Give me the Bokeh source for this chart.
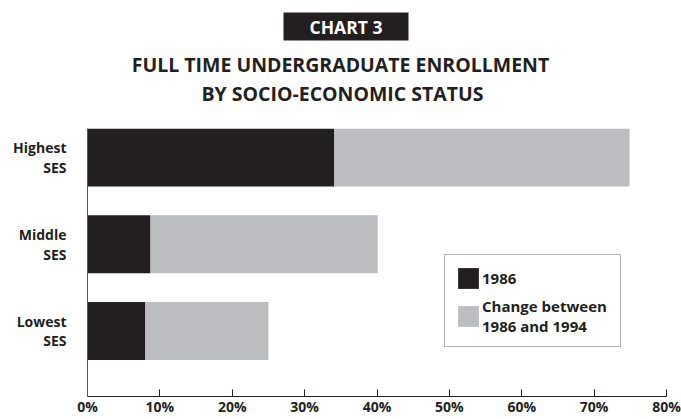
from bokeh.plotting import figure
from bokeh.layouts import column
from bokeh.models import (Range1d, FixedTicker, PrintfTickFormatter,
                          Legend, LegendItem, ColumnDataSource)
from bokeh.core.properties import value
from bokeh.embed import file_html
from bokeh.resources import INLINE

# Full time undergraduate enrollment (%) by socio-economic status
categories = ["Highest\nSES", "Middle\nSES", "Lowest\nSES"]
enroll_1986 = [34.1, 8.7, 8.0]
enroll_1994 = [74.9, 40.1, 25.0]
x_ticks = [0, 10, 20, 30, 40, 50, 60, 70, 80]

DARK = "#231f20"
GREY = "#bcbdc0"
FONT = "Open Sans"
W = 681
LEFT, RIGHT = 87, 15
HEAD_H = 110
CHART_H = 419 - HEAD_H

# ---- heading strip: ranges in page pixels, y grows downward ----
head = figure(width=W, height=HEAD_H, output_backend="svg", toolbar_location=None,
              x_range=Range1d(LEFT, W - RIGHT), y_range=Range1d(HEAD_H, 0),
              min_border_left=LEFT, min_border_right=RIGHT,
              min_border_top=0, min_border_bottom=0)
head.axis.visible = False
head.grid.grid_line_color = None
head.outline_line_color = None
head.quad(left=283, right=408, top=12, bottom=40, fill_color=DARK, line_color=None)
head.text(x=[345.5], y=[26.5], text=["CHART 3"], text_align="center",
          text_baseline="middle", text_font=value(FONT), text_font_style="bold",
          text_font_size="17.5px", text_color="white")
head.text(x=[340, 342], y=[63.5, 92.5],
          text=["FULL TIME UNDERGRADUATE ENROLLMENT", "BY SOCIO-ECONOMIC STATUS"],
          text_align="center", text_baseline="middle", text_font=value(FONT),
          text_font_style="bold", text_font_size="19.5px", text_color=DARK)

# ---- bar chart ----
# bottom-to-top slot index for each category
slots = [len(categories) - 1 - i for i in range(len(categories))]
src = ColumnDataSource(dict(y=slots, base=[0] * len(categories),
                            v86=enroll_1986, v94=enroll_1994))

p = figure(width=W, height=CHART_H, output_backend="svg", toolbar_location=None,
           x_range=Range1d(0, 80), y_range=Range1d(-0.755, 2.334),
           min_border_left=LEFT, min_border_right=RIGHT,
           min_border_top=128 - HEAD_H, min_border_bottom=23)
p.outline_line_color = None
p.grid.grid_line_color = None

r86 = p.hbar(y="y", left="base", right="v86", height=0.669, source=src,
             fill_color=DARK, line_color=None)
r_chg = p.hbar(y="y", left="v86", right="v94", height=0.669, source=src,
               fill_color=GREY, line_color=None)

# x axis: percent ticks, marks pointing inward
xa = p.xaxis[0]
xa.ticker = FixedTicker(ticks=x_ticks)
xa.formatter = PrintfTickFormatter(format="%d%%")
xa.major_tick_in = 7
xa.major_tick_out = 0
xa.minor_tick_line_color = None
xa.axis_line_color = DARK
xa.major_tick_line_color = DARK
xa.major_label_standoff = 0
xa.major_label_text_font = FONT
xa.major_label_text_font_style = "bold"
xa.major_label_text_font_size = "14px"
xa.major_label_text_line_height = 0.9
xa.major_label_text_color = DARK

# y axis: category labels
ya = p.yaxis[0]
ya.ticker = FixedTicker(ticks=slots)
ya.major_label_overrides = {s: c for s, c in zip(slots, categories)}
ya.major_tick_line_color = None
ya.minor_tick_line_color = None
ya.axis_line_color = "#58595b"
ya.major_label_standoff = 15
ya.major_label_text_font = FONT
ya.major_label_text_font_style = "bold"
ya.major_label_text_font_size = "14px"
ya.major_label_text_line_height = 1.03
ya.major_label_text_color = DARK

legend = Legend(items=[LegendItem(label="1986", renderers=[r86]),
                       LegendItem(label="Change between\n1986 and 1994", renderers=[r_chg])],
                location=(357, 49), orientation="vertical",
                border_line_color="#6d6e71", border_line_width=1,
                background_fill_color="white", background_fill_alpha=1,
                padding=10, spacing=5, margin=0,
                glyph_width=26, glyph_height=26, label_standoff=1, label_width=128,
                label_text_font=FONT, label_text_font_style="bold",
                label_text_font_size="15px", label_text_line_height=1.05,
                label_text_color=DARK)
p.add_layout(legend, "center")

open("out.html", "w").write(file_html(column(head, p, spacing=0), INLINE))
